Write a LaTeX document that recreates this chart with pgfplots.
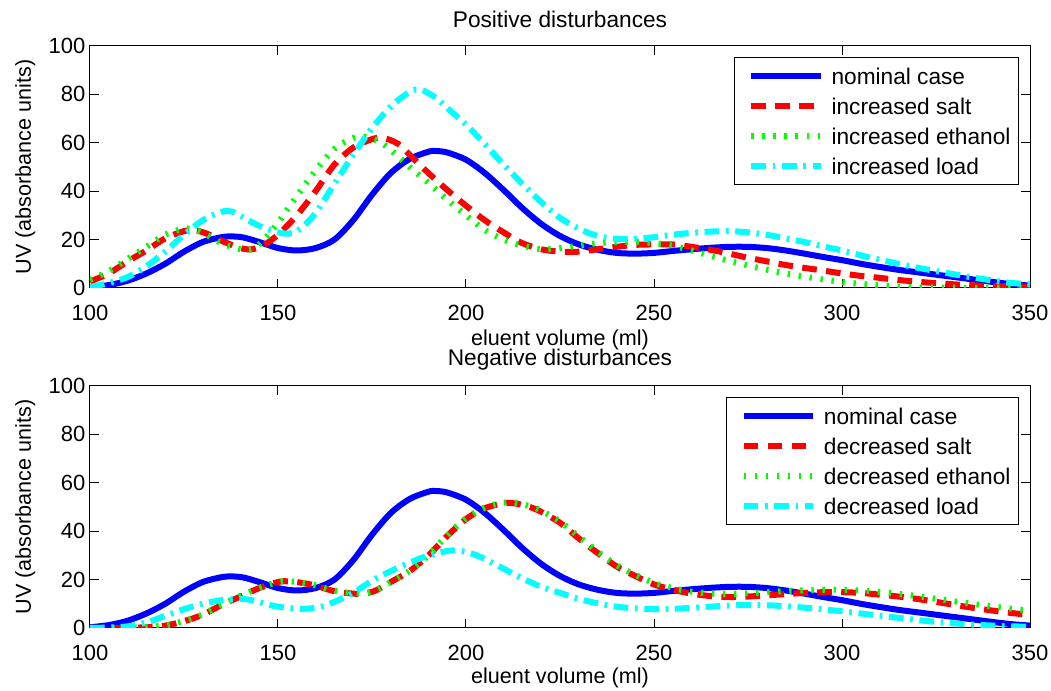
\documentclass[border=0pt]{standalone}
\usepackage{pgfplots}
\pgfplotsset{compat=1.18}
\usepackage{fontspec}
\setmainfont{Liberation Sans}
\definecolor{mblue}{rgb}{0,0,1}
\definecolor{mred}{rgb}{1,0,0}
\definecolor{mgreen}{rgb}{0,1,0}
\definecolor{mcyan}{rgb}{0,1,1}
\pgfplotsset{
  base/.style={
    scale only axis, width=705pt, height=181.5pt, anchor=south west,
    xmin=100, xmax=350, ymin=0, ymax=100,
    xtick={100,150,200,250,300,350}, ytick={0,20,40,60,80,100},
    tick align=inside, xtick pos=both, ytick pos=both,
    xticklabel pos=lower, yticklabel pos=left,
    major tick length=7pt,
    every tick/.style={black, line width=0.75pt},
    axis line style={line width=0.75pt},
    /pgf/number format/assume math mode=true,
    ticklabel style={font=\fontsize{16.5}{18}\selectfont},
    xticklabel style={anchor=base, yshift=-24.5pt},
    label style={font=\fontsize{16.2}{18}\selectfont},
    ylabel style={at={(axis description cs:-0.0628,0.5)}, anchor=base},
    xlabel={eluent volume (ml)},
    ylabel={UV (absorbance units)},
    legend cell align=left,
    legend image code/.code={\path (-4.5pt,0pt); \draw[#1] (0pt,0pt) -- (52pt,0pt);},
    legend style={at={(axis description cs:0.9883,0.9545)}, anchor=north east,
      draw=black, line width=0.75pt, inner xsep=6pt, inner ysep=5.5pt,
      row sep=5.5pt, column sep=6pt, font=\fontsize{17}{20}\selectfont,
      nodes={inner sep=0pt, text height=14.5pt, text depth=2.5pt}},
  },
  nom/.style={mblue, line width=4.5pt, smooth},
  salt/.style={mred, line width=4.5pt, smooth, dash pattern=on 11pt off 7pt},
  eth/.style={mgreen, line width=4.5pt, smooth, dash pattern=on 1.8pt off 6.5pt},
  load/.style={mcyan, line width=4.5pt, smooth, dash pattern=on 11pt off 5pt on 2pt off 5pt},
}
\begin{document}
\begin{tikzpicture}
\useasboundingbox (0,0) rectangle (788.25pt,518.25pt);
\begin{axis}[base, at={(67.5pt,302.25pt)}, title={Positive disturbances},
  every axis title/.style={at={(axis description cs:0.5,1.076)}, anchor=base, font=\fontsize{17}{20}\selectfont},
  xlabel style={at={(axis description cs:0.5,-0.238)}, anchor=base}]
\addplot[nom] coordinates {(100,0.3)(105,1.2)(110,3)(115,6)(120,10)(125,15)(130,19)(135,21)(138,21.3)(141,20.8)(145,19)(150,16.5)(155,15.5)(160,16.5)(165,20)(170,28)(175,38.5)(180,47.5)(185,53.3)(190,56.3)(192,56.6)(195,56)(200,53)(205,47.5)(210,40.5)(215,33)(220,26.5)(225,21.5)(230,18)(235,15.8)(240,14.5)(245,14.2)(250,14.5)(255,15.3)(260,16)(265,16.6)(270,17)(275,17)(280,16.5)(285,15.5)(290,14.2)(295,12.8)(300,11.5)(305,10)(310,8.7)(315,7.5)(320,6.5)(325,5.5)(330,4.5)(335,3.5)(340,2.5)(345,1.6)(350,1)};
\addplot[salt] coordinates {(100,2.7)(105,6)(110,11)(115,15.5)(120,20.5)(125,23.5)(128,23.8)(131,22.5)(135,19.5)(140,16.5)(143,16)(146,17.5)(150,22)(155,30)(160,40)(165,51)(170,58)(175,61.5)(178,62)(182,59.5)(186,53.5)(190,47.5)(195,40.5)(200,34)(205,28)(210,23)(215,18.5)(220,16)(225,15)(230,15)(235,16)(240,17)(245,17.8)(250,18)(255,18)(260,17)(265,15.8)(270,14.2)(275,12.5)(280,11)(285,9.5)(290,8.3)(295,7.2)(300,6)(305,5)(310,4.2)(315,3.3)(320,2.6)(325,2)(330,1.5)(335,1.1)(340,0.8)(345,0.6)(350,0.5)};
\addplot[eth] coordinates {(100,3.4)(105,7)(110,12)(115,17)(120,22)(125,24.5)(128,24)(131,22)(135,18.5)(140,16)(143,16)(146,19.5)(150,27)(155,38)(160,48.5)(165,57.5)(170,62)(173,62.5)(177,60.5)(180,57)(185,50)(190,43.5)(195,36.5)(200,30)(205,24)(210,20)(215,17.5)(220,16)(225,16.5)(230,17.5)(235,18.5)(240,19)(245,19)(250,18.5)(255,17.5)(260,15.5)(265,13.3)(270,11.2)(275,9.3)(280,7.6)(285,6)(290,4.7)(295,3.5)(300,2.5)(305,1.7)(310,1.1)(315,0.6)(320,0.3)(330,0.1)(340,0)(350,0)};
\addplot[load] coordinates {(100,0.4)(105,2)(110,4.5)(115,9)(120,15)(125,22)(130,28)(135,31.5)(138,31.5)(142,28)(146,25)(150,23)(153,22.5)(156,24.5)(160,31)(165,43)(170,55)(175,66)(180,75)(185,81)(188,82)(192,78.5)(196,73)(200,67.5)(205,59.5)(210,51)(215,43)(220,35.5)(225,29)(230,24.5)(235,21.5)(240,20.3)(245,20.3)(250,21)(255,22)(260,22.8)(265,23.3)(270,23.5)(275,23)(280,22)(285,20.5)(290,19)(295,17.2)(300,15.5)(305,13.5)(310,11.7)(315,10)(320,8.4)(325,7)(330,5.6)(335,4.3)(340,3.1)(345,2.1)(350,1.5)};
\legend{nominal case, increased salt, increased ethanol, increased load}
\end{axis}
\begin{axis}[base, at={(67.5pt,47.25pt)}, title={Negative disturbances},
  every axis title/.style={at={(axis description cs:0.5,1.086)}, anchor=base, font=\fontsize{17}{20}\selectfont},
  xlabel style={at={(axis description cs:0.5,-0.231)}, anchor=base}]
\addplot[nom] coordinates {(100,0.3)(105,1.2)(110,3)(115,6)(120,10)(125,15)(130,19)(135,21)(138,21.3)(141,20.8)(145,19)(150,16.5)(155,15.5)(160,16.5)(165,20)(170,28)(175,38.5)(180,47.5)(185,53.3)(190,56.3)(192,56.6)(195,56)(200,53)(205,47.5)(210,40.5)(215,33)(220,26.5)(225,21.5)(230,18)(235,15.8)(240,14.5)(245,14.2)(250,14.5)(255,15.3)(260,16)(265,16.6)(270,17)(275,17)(280,16.5)(285,15.5)(290,14.2)(295,12.8)(300,11.5)(305,10)(310,8.7)(315,7.5)(320,6.5)(325,5.5)(330,4.5)(335,3.5)(340,2.5)(345,1.6)(350,1)};
\addplot[salt] coordinates {(100,0)(105,0)(110,0.1)(115,0.3)(120,1)(125,2.8)(130,5.5)(135,9.5)(140,13)(145,16.5)(150,19)(153,19.3)(157,18.5)(160,17.5)(165,15.2)(170,14.2)(173,14.2)(176,15.5)(180,19)(185,23.5)(190,30)(195,38)(200,45)(205,49.5)(210,51.5)(213,51.5)(217,50)(220,48)(225,43.5)(230,37)(235,31)(240,25.5)(245,21.5)(250,18)(255,15.8)(260,14.2)(265,13.2)(270,12.8)(275,13)(280,13.5)(285,14)(290,14.5)(295,14.8)(300,14.8)(305,14.5)(310,13.8)(315,13)(320,12)(325,10.8)(330,9.5)(335,8.3)(340,7.2)(345,6.2)(350,5.4)};
\addplot[eth] coordinates {(100,0)(105,0)(110,0.1)(115,0.4)(120,1.1)(125,2.9)(130,5.6)(135,9.6)(140,13.2)(145,16.6)(150,19)(153,19.3)(157,18.6)(160,17.6)(165,15.4)(170,14.4)(173,14.4)(176,15.6)(180,19)(185,23.6)(190,30.2)(195,38.3)(200,45.3)(205,49.8)(210,51.8)(213,51.8)(217,50.3)(220,48.5)(225,44)(230,37.8)(235,31.6)(240,26)(245,22)(250,18.6)(255,16.5)(260,15)(265,14.2)(270,14)(275,14.3)(280,14.8)(285,15.3)(290,15.6)(295,15.8)(300,15.8)(305,15.5)(310,14.9)(315,14.1)(320,13.2)(325,12.1)(330,11)(335,9.9)(340,8.9)(345,8)(350,7.2)};
\addplot[load] coordinates {(100,0)(105,0.2)(110,0.7)(115,2.3)(120,5)(125,7.8)(130,10)(135,11.5)(140,12)(143,11.5)(147,9.8)(150,8.8)(155,8)(158,8)(162,9)(166,11.5)(170,14.5)(175,19.5)(180,23.5)(185,27)(190,30)(195,31.8)(198,32)(202,30.5)(205,28.5)(210,24.5)(215,20.5)(220,17)(225,14.5)(230,12)(235,10.2)(240,8.8)(245,8.1)(250,7.8)(255,7.9)(260,8.3)(265,8.8)(270,9.3)(275,9.5)(280,9.4)(285,9)(290,8.4)(295,7.7)(300,6.9)(305,6)(310,5.1)(315,4.2)(320,3.3)(325,2.5)(330,1.9)(335,1.4)(340,1)(345,0.7)(350,0.5)};
\legend{nominal case, decreased salt, decreased ethanol, decreased load}
\end{axis}
\end{tikzpicture}
\end{document}
